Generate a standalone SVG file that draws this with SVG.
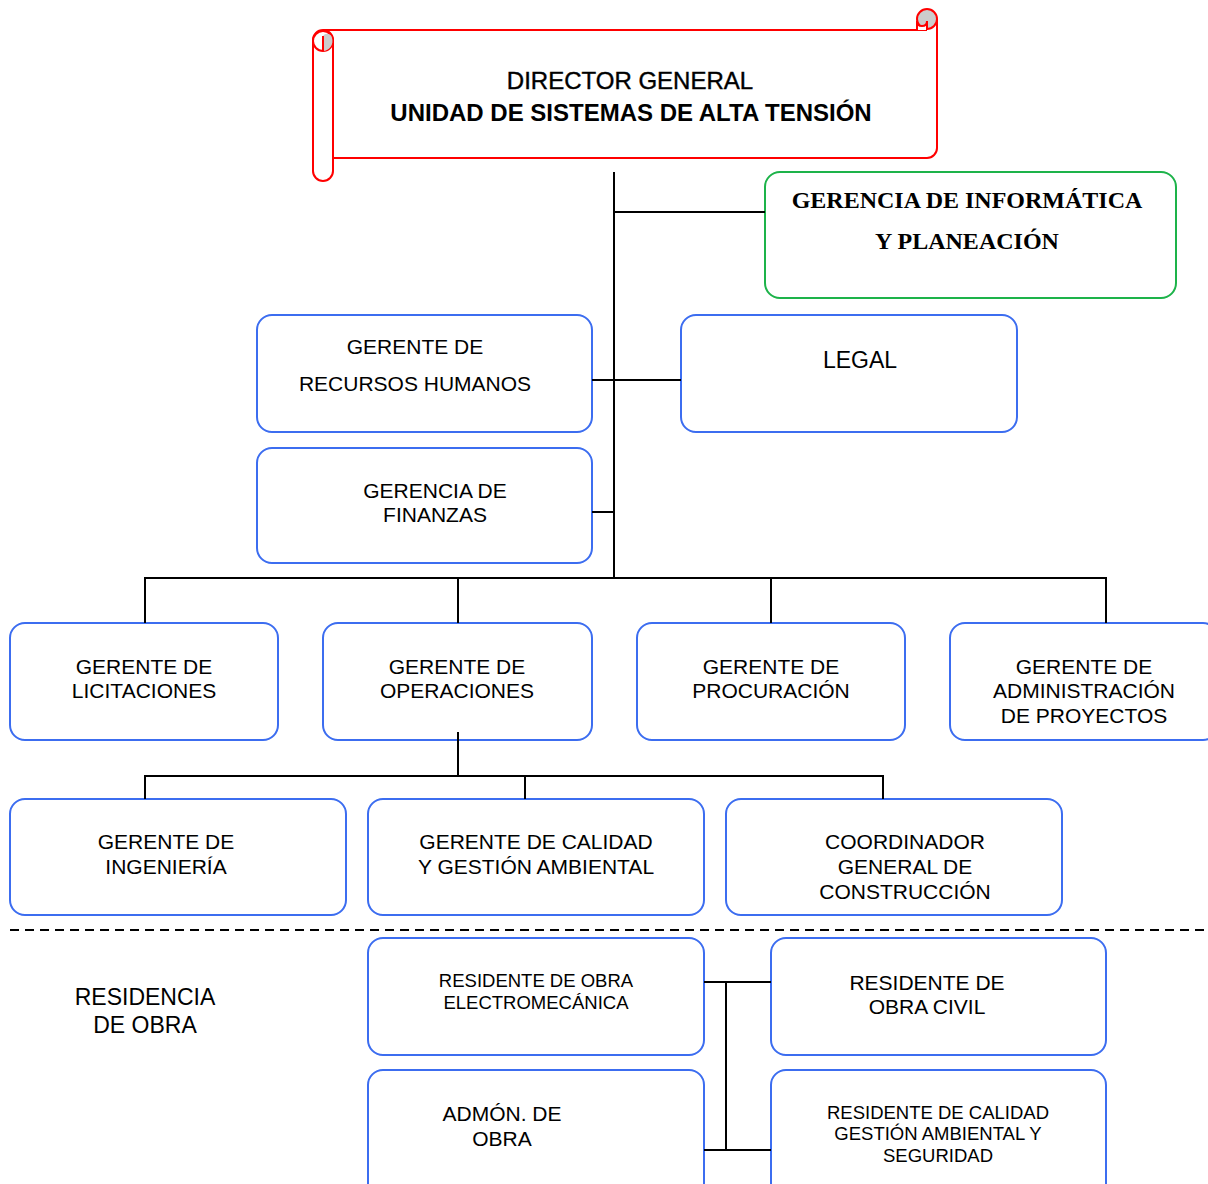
<svg xmlns="http://www.w3.org/2000/svg" width="1208" height="1184" viewBox="0 0 1208 1184">
  <style>
    .box { fill: #ffffff; stroke: #3c6df0; stroke-width: 2; }
    .t { font-family: "Liberation Sans", Arial, sans-serif; font-size: 21px; fill: #000; text-anchor: middle; }
    .ts { font-family: "Liberation Sans", Arial, sans-serif; font-size: 18.5px; fill: #000; text-anchor: middle; }
    .serif { font-family: "Liberation Serif", "Times New Roman", serif; font-size: 24px; font-weight: bold; fill: #000; text-anchor: middle; }
    .wire { stroke: #000; stroke-width: 2; fill: none; }
    .scroll { stroke: #ff0000; stroke-width: 2; }
  </style>

  <rect width="1208" height="1184" fill="#ffffff"/>

  <!-- Director general scroll banner -->
  <g id="director">
    <path class="scroll" fill="#ffffff" d="M323,30 H927 M937,19 V148 A10,10 0 0 1 927,158 H333"/>
    <rect class="scroll" fill="#ffffff" x="313" y="30" width="20" height="151" rx="10"/>
    <circle class="scroll" fill="#ffffff" cx="323" cy="41" r="10"/>
    <path fill="#cccccc" stroke="none" d="M323,51 V36 A5,5 0 0 1 332,38 A10,10 0 0 1 323,51 Z"/>
    <line class="scroll" x1="323" y1="51" x2="323" y2="36"/>
    <circle class="scroll" fill="#cccccc" cx="927" cy="19" r="10"/>
    <path class="scroll" fill="#ffffff" d="M917,30 V21 Q917,26 922,26 Q927,26 927,21 V30"/>
    <text x="630" y="89" style="font-family:'Liberation Sans',Arial,sans-serif;font-size:24px;text-anchor:middle;stroke:#000;stroke-width:0.4">DIRECTOR GENERAL</text>
    <text x="631" y="121" style="font-family:'Liberation Sans',Arial,sans-serif;font-size:24px;font-weight:bold;text-anchor:middle">UNIDAD DE SISTEMAS DE ALTA TENSIÓN</text>
  </g>

  <g id="informatica">
    <rect x="765" y="172" width="411" height="126" rx="15" fill="#ffffff" stroke="#1db34a" stroke-width="2"/>
    <text class="serif" x="967" y="208">GERENCIA DE INFORMÁTICA</text>
    <text class="serif" x="967" y="249">Y PLANEACIÓN</text>
  </g>

  <g id="rrhh">
    <rect class="box" x="257" y="315" width="335" height="117" rx="15"/>
    <text class="t" x="415" y="354">GERENTE DE</text>
    <text class="t" x="415" y="391">RECURSOS HUMANOS</text>
  </g>

  <g id="legal">
    <rect class="box" x="681" y="315" width="336" height="117" rx="15"/>
    <text class="t" x="860" y="368" style="font-size:23px">LEGAL</text>
  </g>

  <g id="finanzas">
    <rect class="box" x="257" y="448" width="335" height="115" rx="15"/>
    <text class="t" x="435" y="498">GERENCIA DE</text>
    <text class="t" x="435" y="522">FINANZAS</text>
  </g>

  <g id="licitaciones">
    <rect class="box" x="10" y="623" width="268" height="117" rx="15"/>
    <text class="t" x="144" y="674">GERENTE DE</text>
    <text class="t" x="144" y="698">LICITACIONES</text>
  </g>

  <g id="operaciones">
    <rect class="box" x="323" y="623" width="269" height="117" rx="15"/>
    <text class="t" x="457" y="674">GERENTE DE</text>
    <text class="t" x="457" y="698">OPERACIONES</text>
  </g>

  <g id="procuracion">
    <rect class="box" x="637" y="623" width="268" height="117" rx="15"/>
    <text class="t" x="771" y="674">GERENTE DE</text>
    <text class="t" x="771" y="698">PROCURACIÓN</text>
  </g>

  <g id="administracion">
    <rect class="box" x="950" y="623" width="268" height="117" rx="15"/>
    <text class="t" x="1084" y="674">GERENTE DE</text>
    <text class="t" x="1084" y="698">ADMINISTRACIÓN</text>
    <text class="t" x="1084" y="723">DE PROYECTOS</text>
  </g>

  <g id="ingenieria">
    <rect class="box" x="10" y="799" width="336" height="116" rx="15"/>
    <text class="t" x="166" y="849">GERENTE DE</text>
    <text class="t" x="166" y="874">INGENIERÍA</text>
  </g>

  <g id="calidad">
    <rect class="box" x="368" y="799" width="336" height="116" rx="15"/>
    <text class="t" x="536" y="849">GERENTE DE CALIDAD</text>
    <text class="t" x="536" y="874">Y GESTIÓN AMBIENTAL</text>
  </g>

  <g id="construccion">
    <rect class="box" x="726" y="799" width="336" height="116" rx="15"/>
    <text class="t" x="905" y="849">COORDINADOR</text>
    <text class="t" x="905" y="874">GENERAL DE</text>
    <text class="t" x="905" y="899">CONSTRUCCIÓN</text>
  </g>

  <g id="residencia">
    <text class="t" x="145" y="1005" style="font-size:23px">RESIDENCIA</text>
    <text class="t" x="145" y="1033" style="font-size:23px">DE OBRA</text>
  </g>

  <g id="electromecanica">
    <rect class="box" x="368" y="938" width="336" height="117" rx="15"/>
    <text class="ts" x="536" y="987">RESIDENTE DE OBRA</text>
    <text class="ts" x="536" y="1009">ELECTROMECÁNICA</text>
  </g>

  <g id="civil">
    <rect class="box" x="771" y="938" width="335" height="117" rx="15"/>
    <text class="t" x="927" y="990">RESIDENTE DE</text>
    <text class="t" x="927" y="1014">OBRA CIVIL</text>
  </g>

  <g id="admon">
    <rect class="box" x="368" y="1070" width="336" height="130" rx="15"/>
    <text class="t" x="502" y="1121">ADMÓN. DE</text>
    <text class="t" x="502" y="1146">OBRA</text>
  </g>

  <g id="seguridad">
    <rect class="box" x="771" y="1070" width="335" height="130" rx="15"/>
    <text class="ts" x="938" y="1119">RESIDENTE DE CALIDAD</text>
    <text class="ts" x="938" y="1140">GESTIÓN AMBIENTAL Y</text>
    <text class="ts" x="938" y="1162">SEGURIDAD</text>
  </g>

  <!-- Connectors, drawn last so the stub under OPERACIONES shows inside its box -->
  <g id="connectors" class="wire">
    <line x1="614" y1="172" x2="614" y2="579"/>
    <line x1="614" y1="212" x2="765" y2="212"/>
    <line x1="592" y1="380" x2="681" y2="380"/>
    <line x1="592" y1="512" x2="614" y2="512"/>
    <line x1="144" y1="578" x2="1107" y2="578"/>
    <line x1="145" y1="578" x2="145" y2="623"/>
    <line x1="458" y1="578" x2="458" y2="623"/>
    <line x1="771" y1="578" x2="771" y2="623"/>
    <line x1="1106" y1="578" x2="1106" y2="623"/>
    <line x1="458" y1="732" x2="458" y2="776"/>
    <line x1="144" y1="776" x2="884" y2="776"/>
    <line x1="145" y1="776" x2="145" y2="799"/>
    <line x1="525" y1="776" x2="525" y2="799"/>
    <line x1="883" y1="776" x2="883" y2="799"/>
    <line x1="704" y1="982" x2="771" y2="982"/>
    <line x1="704" y1="1150" x2="771" y2="1150"/>
    <line x1="726" y1="982" x2="726" y2="1150"/>
    <line x1="10" y1="930" x2="1208" y2="930" stroke-dasharray="9 6"/>
  </g>
</svg>
